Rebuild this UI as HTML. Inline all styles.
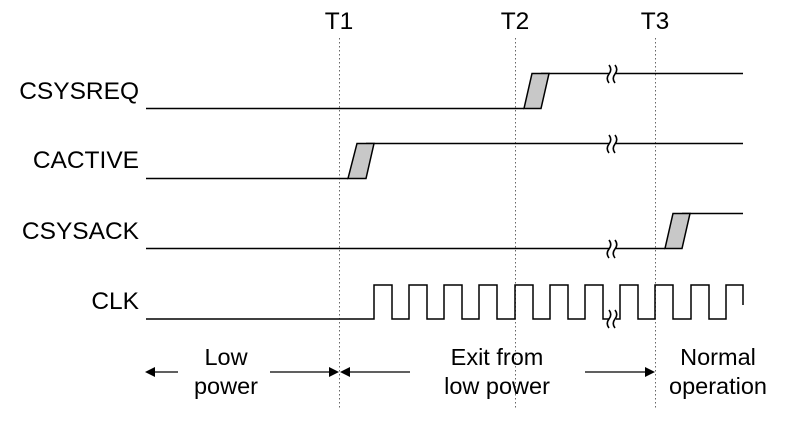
<!DOCTYPE html>
<html><head><style>html,body{margin:0;padding:0;background:#fff}</style></head><body>
<svg width="789" height="418" viewBox="0 0 789 418" xmlns="http://www.w3.org/2000/svg" font-family="Liberation Sans, Arial, sans-serif" font-size="24.5">
<g stroke="#666" stroke-width="1" stroke-dasharray="1.5,2.5">
<line x1="339.5" y1="38" x2="339.5" y2="410"/>
<line x1="515.5" y1="38" x2="515.5" y2="410"/>
<line x1="655.5" y1="38" x2="655.5" y2="410"/>
</g>
<g fill="#000">
<text x="339" y="29" text-anchor="middle">T1</text>
<text x="515" y="29" text-anchor="middle">T2</text>
<text x="655" y="29" text-anchor="middle">T3</text>
<text x="139" y="99" text-anchor="end">CSYSREQ</text>
<text x="139" y="168" text-anchor="end">CACTIVE</text>
<text x="139" y="239" text-anchor="end">CSYSACK</text>
<text x="139" y="309" text-anchor="end">CLK</text>
</g>
<g fill="none" stroke="#000" stroke-width="1.5">
<polyline points="146,108.5 524,108.5"/>
<polyline points="541,73.5 743,73.5"/>
<polyline points="146,178.5 348,178.5"/>
<polyline points="366,143.5 743,143.5"/>
<polyline points="146,248.5 665,248.5"/>
<polyline points="682,213.5 743,213.5"/>
<polyline points="146,319 374,319 374,285 392,285 392,319 409,319 409,285 427,285 427,319 444,319 444,285 462,285 462,319 479,319 479,285 497,285 497,319 515,319 515,285 533,285 533,319 550,319 550,285 568,285 568,319 585,319 585,285 603,285 603,319 620,319 620,285 638,285 638,319 655,319 655,285 673,285 673,319 691,319 691,285 709,285 709,319 726,319 726,285 743,285 743,305"/>
</g>
<g fill="#c8c8c8" stroke="#000" stroke-width="1.5">
<polygon points="524,108.5 541,108.5 549,73.5 532,73.5"/>
<polygon points="348,178.5 366,178.5 374,143.5 357,143.5"/>
<polygon points="665,248.5 682,248.5 690,213.5 673,213.5"/>
</g>
<g>
<rect x="609" y="62" width="7" height="24" fill="#fff"/>
<rect x="609" y="132" width="7" height="24" fill="#fff"/>
<rect x="609" y="237" width="7" height="24" fill="#fff"/>
<rect x="609" y="307" width="7" height="24" fill="#fff"/>
<g fill="none" stroke="#000" stroke-width="1.6">
<path d="M609,65 q3.5,4.5 0,9 q-3.5,4.5 0,9 M615,65 q3.5,4.5 0,9 q-3.5,4.5 0,9"/>
<path d="M609,135 q3.5,4.5 0,9 q-3.5,4.5 0,9 M615,135 q3.5,4.5 0,9 q-3.5,4.5 0,9"/>
<path d="M609,240 q3.5,4.5 0,9 q-3.5,4.5 0,9 M615,240 q3.5,4.5 0,9 q-3.5,4.5 0,9"/>
<path d="M609,310 q3.5,4.5 0,9 q-3.5,4.5 0,9 M615,310 q3.5,4.5 0,9 q-3.5,4.5 0,9"/>
</g>
</g>
<g stroke="#000" stroke-width="1.3">
<line x1="152" y1="372" x2="178" y2="372"/>
<line x1="270" y1="372" x2="332" y2="372"/>
<line x1="346" y1="372" x2="410" y2="372"/>
<line x1="585" y1="372" x2="648" y2="372"/>
</g>
<g fill="#000">
<polygon points="145,372 155,367 155,377"/>
<polygon points="339,372 329,367 329,377"/>
<polygon points="340,372 350,367 350,377"/>
<polygon points="655,372 645,367 645,377"/>
</g>
<g fill="#000" text-anchor="middle" font-size="23.5">
<text x="226" y="365">Low</text>
<text x="226" y="394">power</text>
<text x="497" y="365">Exit from</text>
<text x="497" y="394">low power</text>
<text x="718" y="365">Normal</text>
<text x="718" y="394">operation</text>
</g>
</svg>
</body></html>
